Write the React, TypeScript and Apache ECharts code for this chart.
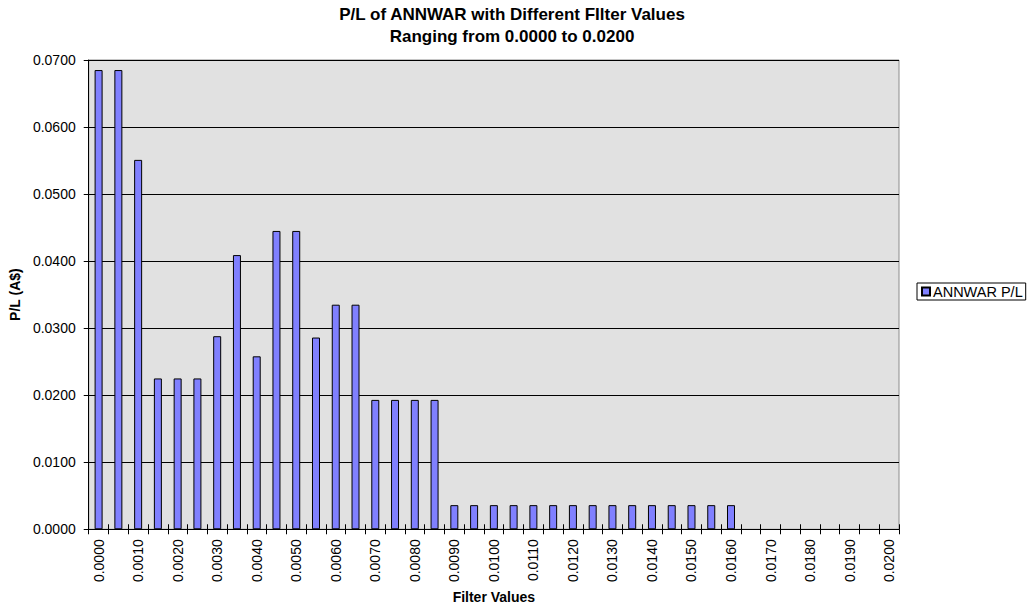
import React, { useEffect, useRef } from "react";
import * as echarts from "echarts";

const categories = [
  "0.0000", "0.0005", "0.0010", "0.0015", "0.0020", "0.0025", "0.0030", "0.0035",
  "0.0040", "0.0045", "0.0050", "0.0055", "0.0060", "0.0065", "0.0070", "0.0075",
  "0.0080", "0.0085", "0.0090", "0.0095", "0.0100", "0.0105", "0.0110", "0.0115",
  "0.0120", "0.0125", "0.0130", "0.0135", "0.0140", "0.0145", "0.0150", "0.0155",
  "0.0160", "0.0165", "0.0170", "0.0175", "0.0180", "0.0185", "0.0190", "0.0195",
  "0.0200",
];

const pnlValues = [
  0.0685, 0.0685, 0.0551, 0.0225, 0.0225, 0.0225, 0.0288, 0.0409,
  0.0258, 0.0445, 0.0445, 0.0286, 0.0335, 0.0335, 0.0193, 0.0193,
  0.0193, 0.0193, 0.0036, 0.0036, 0.0036, 0.0036, 0.0036, 0.0036,
  0.0036, 0.0036, 0.0036, 0.0036, 0.0036, 0.0036, 0.0036, 0.0036,
  0.0036, 0, 0, 0, 0, 0, 0, 0,
  0,
];

const seriesName = "ANNWAR P/L";
const titleText = "P/L of ANNWAR with Different FIlter Values\nRanging from 0.0000 to 0.0200";
const xName = "Filter Values";
const yName = "P/L (A$)";

const FONT = "'Liberation Sans', Arial, sans-serif";

export default function App() {
  const ref = useRef<HTMLDivElement>(null);
  useEffect(() => {
    if (!ref.current) return;
    const chart = echarts.init(ref.current, null, { renderer: "svg" });
    chart.setOption({
      animation: false,
      backgroundColor: "#ffffff",
      textStyle: { fontFamily: FONT },
      title: {
        text: titleText,
        left: 512,
        textAlign: "center",
        top: 4,
        padding: 0,
        textStyle: {
          fontFamily: FONT,
          fontSize: 17,
          fontWeight: "bold",
          color: "#000",
          lineHeight: 21.5,
        },
      },
      legend: {
        left: 917,
        top: 283,
        orient: "vertical",
        padding: [1, 3, 1, 4],
        borderColor: "#000",
        borderWidth: 1,
        backgroundColor: "#fff",
        itemWidth: 8,
        itemHeight: 8,
        icon: "rect",
        textStyle: { fontFamily: FONT, fontSize: 14.5, color: "#000", padding: [0, 0, 0, -2] },
        data: [seriesName],
      },
      grid: {
        left: 86,
        top: 60,
        width: 813,
        height: 470,
        show: true,
        backgroundColor: "#e1e1e1",
        borderColor: "#8c8c8c",
        borderWidth: 1,
      },
      xAxis: [
        {
          type: "category",
          data: categories,
          boundaryGap: true,
          name: xName,
          nameLocation: "middle",
          nameGap: 60,
          nameTextStyle: { fontFamily: FONT, fontSize: 14, fontWeight: "bold", color: "#000" },
          axisLine: { lineStyle: { color: "#000", width: 1 } },
          axisTick: { show: true, interval: 0, length: 5, lineStyle: { color: "#000" } },
          axisLabel: {
            interval: 1,
            rotate: 90,
            margin: 10,
            fontFamily: FONT,
            fontSize: 14,
            color: "#000",
          },
          splitLine: { show: false },
        },
        {
          type: "category",
          data: categories,
          position: "bottom",
          boundaryGap: true,
          axisLine: { show: false },
          axisTick: { show: true, inside: true, interval: 0, length: 5, lineStyle: { color: "#000" } },
          axisLabel: { show: false },
          splitLine: { show: false },
        },
      ],
      yAxis: {
        type: "value",
        min: 0,
        max: 0.07,
        interval: 0.01,
        name: yName,
        nameLocation: "middle",
        nameGap: 63,
        nameRotate: 90,
        nameTextStyle: { fontFamily: FONT, fontSize: 14, fontWeight: "bold", color: "#000" },
        axisLine: { show: true, lineStyle: { color: "#000", width: 1 } },
        axisTick: { show: true, length: 5, lineStyle: { color: "#000" } },
        axisLabel: {
          margin: 13,
          fontFamily: FONT,
          fontSize: 14,
          color: "#000",
          formatter: (v: number) => v.toFixed(4),
        },
        splitLine: { show: true, lineStyle: { color: "#000", width: 1 } },
      },
      series: [
        {
          name: seriesName,
          type: "bar",
          xAxisIndex: 0,
          data: pnlValues.map((v) =>
            v === 0 ? { value: v, itemStyle: { borderWidth: 0, opacity: 0 } } : v
          ),
          barWidth: 8,
          itemStyle: { color: "#8080ff", borderColor: "#000", borderWidth: 1 },
        },
      ],
    });
    return () => chart.dispose();
  }, []);
  return (
    <div
      ref={ref}
      style={{ position: "fixed", left: 0, top: 0, width: 1032, height: 609 }}
    />
  );
}
